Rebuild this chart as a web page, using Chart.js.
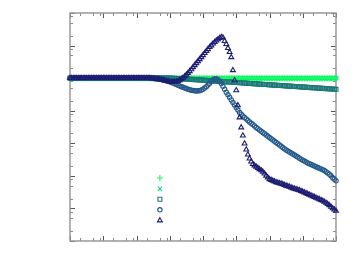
<!DOCTYPE html>
<html>
<head>
<meta charset="utf-8">
<script src="https://cdn.jsdelivr.net/npm/chart.js@4/dist/chart.umd.min.js"></script>
<style>
  html, body { margin: 0; padding: 0; background: #fff; }
  #wrap { width: 354px; height: 275px; }
</style>
</head>
<body>
<div id="wrap"><canvas id="chart"></canvas></div>
<script>
// x grid, 10 points per decade
const xGrid = [
  1e-4, 1.26e-4, 1.58e-4, 2e-4, 2.51e-4, 3.16e-4, 3.98e-4, 5.01e-4, 6.31e-4, 7.94e-4,
  1e-3, 1.26e-3, 1.58e-3, 2e-3, 2.51e-3, 3.16e-3, 3.98e-3, 5.01e-3, 6.31e-3, 7.94e-3,
  1e-2, 1.26e-2, 1.58e-2, 2e-2, 2.51e-2, 3.16e-2, 3.98e-2, 5.01e-2, 6.31e-2, 7.94e-2,
  0.1, 0.126, 0.158, 0.2, 0.251, 0.316, 0.398, 0.501, 0.631, 0.794,
  1, 1.26, 1.58, 2, 2.51, 3.16, 3.98, 5.01, 6.31, 7.94,
  10, 12.6, 15.8, 20, 25.1, 31.6, 39.8, 50.1, 63.1, 79.4,
  100, 126, 158, 200, 251, 316, 398, 501, 631, 794,
  1000, 1260, 1580, 2000, 2510, 3160, 3980, 5010, 6310, 7940,
  10000,
];

// in-between x values (half steps of the grid above)
const xMid = [
  1.12e-4, 1.41e-4, 1.78e-4, 2.24e-4, 2.82e-4, 3.55e-4, 4.47e-4, 5.62e-4, 7.08e-4, 8.91e-4,
  1.12e-3, 1.41e-3, 1.78e-3, 2.24e-3, 2.82e-3, 3.55e-3, 4.47e-3, 5.62e-3, 7.08e-3, 8.91e-3,
  1.12e-2, 1.41e-2, 1.78e-2, 2.24e-2, 2.82e-2, 3.55e-2, 4.47e-2, 5.62e-2, 7.08e-2, 8.91e-2,
  0.112, 0.141, 0.178, 0.224, 0.282, 0.355, 0.447, 0.562, 0.708, 0.891,
  1.12, 1.41, 1.78, 2.24, 2.82, 3.55, 4.47, 5.62, 7.08, 8.91,
  11.2, 14.1, 17.8, 22.4, 28.2, 35.5, 44.7, 56.2, 70.8, 89.1,
  112, 141, 178, 224, 282, 355, 447, 562, 708, 891,
  1120, 1410, 1780, 2240, 2820, 3550, 4470, 5620, 7080, 8910,
];

const plusY = [
  1, 1, 1, 1, 1, 1, 1, 1, 1, 1,
  1, 1, 1, 1, 1, 1, 1, 1, 1, 1,
  1, 1, 1, 1, 1, 1, 1, 1, 1, 1,
  1, 1, 1, 1, 1, 1, 1, 1, 1, 1,
  1, 1, 1, 1, 1, 1, 1, 1, 1, 1,
  1, 1, 1, 1, 1, 1, 1, 1, 1, 1,
  1, 1, 1, 1, 1, 1, 1, 1, 1, 1,
  1, 1, 1, 1, 1, 1, 1, 1, 1, 1,
  1,
];
const plusMidY = [
  1, 1, 1, 1, 1, 1, 1, 1, 1, 1,
  1, 1, 1, 1, 1, 1, 1, 1, 1, 1,
  1, 1, 1, 1, 1, 1, 1, 1, 1, 1,
  1, 1, 1, 1, 1, 1, 1, 1, 1, 1,
  1, 1, 1, 1, 1, 1, 1, 1, 1, 1,
  1, 1, 1, 1, 1, 1, 1, 1, 1, 1,
  1, 1, 1, 1, 1, 1, 1, 1, 1, 1,
  1, 1, 1, 1, 1, 1, 1, 1, 1, 1,
];

const crossY = [
  1, 1, 1, 1, 1, 1, 1, 1, 1, 1,
  1, 1, 1, 1, 1, 1, 1, 1, 1, 1,
  1, 1, 1, 1, 1, 1, 1, 1, 1, 1,
  1, 1, 1, 1, 1, 1, 1, 1, 1, 1,
  1, 1, 1, 1, 1, 1, 1, 1, 1, 1,
  1, 1, 1, 1, 1, 1, 1, 1, 1, 1,
  1, 1, 1, 1, 1, 1, 1, 1, 1, 1,
  1, 1, 1, 1, 1, 1, 1, 1, 1, 1,
  1,
];
const crossMidY = [
  1, 1, 1, 1, 1, 1, 1, 1, 1, 1,
  1, 1, 1, 1, 1, 1, 1, 1, 1, 1,
  1, 1, 1, 1, 1, 1, 1, 1, 1, 1,
  1, 1, 1, 1, 1, 1, 1, 1, 1, 1,
  1, 1, 1, 1, 1, 1, 1, 1, 1, 1,
  1, 1, 1, 1, 1, 1, 1, 1, 1, 1,
  1, 1, 1, 1, 1, 1, 1, 1, 1, 1,
  1, 1, 1, 1, 1, 1, 1, 1, 1, 1,
];

const squareY = [
  1, 1, 1, 1, 1, 1, 1, 1, 1, 1,
  1, 1, 1, 1, 1, 1, 1, 1, 1, 1,
  1, 1, 1, 1, 1, 1, 1, 1, 1, 1,
  1, 0.99, 0.98, 0.969, 0.952, 0.935, 0.922, 0.909, 0.893, 0.881,
  0.865, 0.853, 0.838, 0.823, 0.811, 0.8, 0.786, 0.772, 0.761, 0.748,
  0.735, 0.724, 0.714, 0.699, 0.689, 0.68, 0.668, 0.656, 0.647, 0.637,
  0.626, 0.615, 0.606, 0.598, 0.587, 0.577, 0.569, 0.561, 0.551, 0.542,
  0.534, 0.526, 0.517, 0.508, 0.501, 0.494, 0.485, 0.477, 0.47, 0.462,
  0.453,
];
const squareMidY = [
  1, 1, 1, 1, 1, 1, 1, 1, 1, 1,
  1, 1, 1, 1, 1, 1, 1, 1, 1, 1,
  1, 1, 1, 1, 1, 1, 1, 1, 1, 1,
  0.995, 0.985, 0.975, 0.96, 0.943, 0.928, 0.915, 0.901, 0.887, 0.873,
  0.859, 0.845, 0.83, 0.817, 0.805, 0.793, 0.779, 0.766, 0.754, 0.741,
  0.73, 0.719, 0.706, 0.694, 0.684, 0.674, 0.662, 0.651, 0.642, 0.631,
  0.62, 0.61, 0.602, 0.592, 0.582, 0.573, 0.565, 0.556, 0.546, 0.538,
  0.53, 0.521, 0.512, 0.504, 0.497, 0.489, 0.481, 0.473, 0.466, 0.457,
];

const circleY = [
  1, 1, 1, 1, 1, 1, 1, 1, 1, 1,
  1, 1, 1, 1, 1, 1, 1, 1, 1, 1,
  1, 1, 1, 1, 1, 0.969, 0.949, 0.922, 0.884, 0.829,
  0.772, 0.704, 0.637, 0.577, 0.523, 0.477, 0.441, 0.416, 0.405, 0.413,
  0.453, 0.542, 0.694, 0.89, 0.956, 0.8, 0.561, 0.366, 0.257, 0.18,
  0.126, 0.0885, 0.0691, 0.0558, 0.0451, 0.0378, 0.0305, 0.0256, 0.0214, 0.0179,
  0.015, 0.0126, 0.0105, 0.00881, 0.00738, 0.00618, 0.00536, 0.00465, 0.00404, 0.0035,
  0.00304, 0.00264, 0.00237, 0.00213, 0.00191, 0.00172, 0.00155, 0.00134, 0.00112, 0.000877,
  0.000708,
];
const circleMidY = [
  1, 1, 1, 1, 1, 1, 1, 1, 1, 1,
  1, 1, 1, 1, 1, 1, 1, 1, 1, 1,
  1, 1, 1, 1, 0.99, 0.96, 0.936, 0.904, 0.857, 0.8,
  0.738, 0.67, 0.606, 0.549, 0.5, 0.458, 0.428, 0.41, 0.407, 0.43,
  0.495, 0.615, 0.8, 0.94, 0.9, 0.68, 0.455, 0.31, 0.215, 0.151,
  0.105, 0.078, 0.062, 0.05, 0.041, 0.034, 0.028, 0.0234, 0.0196, 0.0164,
  0.0137, 0.0115, 0.0096, 0.0081, 0.00675, 0.00575, 0.005, 0.00434, 0.00376, 0.00326,
  0.00284, 0.0025, 0.00225, 0.00202, 0.00181, 0.00163, 0.00145, 0.00123, 0.001, 0.00079,
];

const triangleY = [
  1, 1, 1, 1, 1, 1, 1, 1, 1, 1,
  1, 1, 1, 1, 1, 1, 1, 1, 1, 1,
  1, 1, 1, 1, 1, 0.976, 0.956, 0.922, 0.871, 0.823,
  0.783, 0.767, 0.783, 0.859, 1.026, 1.269, 1.627, 2.162, 2.872, 3.815,
  5.07, 6.73, 8.95, 11.47, 14.19, 16.95, 17.57, 11.07, 6.27, 1.748,
  0.422, 0.0621, 0.0173, 0.0064, 0.00338, 0.00229, 0.00191, 0.0016, 0.00134, 0.00101,
  0.000787, 0.000708, 0.000637, 0.000593, 0.000553, 0.000497, 0.000463, 0.000416, 0.000388, 0.000361,
  0.000325, 0.000292, 0.000263, 0.000236, 0.000212, 0.000191, 0.000171, 0.000149, 0.000125, 0.000101,
  0.0000843,
];
const triangleMidY = [
  1, 1, 1, 1, 1, 1, 1, 1, 1, 1,
  1, 1, 1, 1, 1, 1, 1, 1, 1, 1,
  1, 1, 1, 1, 0.99, 0.966, 0.94, 0.897, 0.847, 0.803,
  0.773, 0.772, 0.815, 0.94, 1.14, 1.44, 1.87, 2.49, 3.3, 4.4,
  5.85, 7.75, 10.1, 12.8, 15.6, 18.2, 13.7, 8.33, 4.39, 0.859,
  0.1455, 0.0305, 0.0098, 0.00449, 0.00273, 0.00208, 0.00175, 0.00147, 0.00117, 0.00089,
  0.000745, 0.00067, 0.000614, 0.000573, 0.000524, 0.00048, 0.000438, 0.000402, 0.000374, 0.000342,
  0.000308, 0.000277, 0.00025, 0.000224, 0.000201, 0.000181, 0.00016, 0.000137, 0.000112, 0.0000925,
];

const xDecades = [-4, -3, -2, -1, 0, 1, 2, 3, 4];
const yDecades = [-5, -4, -3, -2, -1, 0, 1, 2];
const minorSteps = [2, 5, 8];

function pairs(xs, ys) {
  return ys.map((y, i) => ({ x: xs[i], y: y }));
}

function series(data, style, color, radius, order) {
  return {
    label: "",
    data: data,
    pointStyle: style,
    pointRadius: radius,
    pointBorderWidth: 1.1,
    borderColor: color,
    backgroundColor: "rgba(0,0,0,0)",
    pointBackgroundColor: "rgba(0,0,0,0)",
    pointBorderColor: color,
    showLine: false,
    clip: false,
    order: order,
  };
}

// frame and inside ticks on all four sides
const framePlugin = {
  id: "frame",
  beforeDatasetsDraw(chart) {
    const { ctx, chartArea: a, scales } = chart;
    ctx.save();
    ctx.lineWidth = 1;
    const drawTick = (pos, len, horizontal) => {
      if (horizontal) {
        ctx.moveTo(pos, a.bottom);
        ctx.lineTo(pos, a.bottom - len);
        ctx.moveTo(pos, a.top);
        ctx.lineTo(pos, a.top + len);
      } else {
        ctx.moveTo(a.left, pos);
        ctx.lineTo(a.left + len, pos);
        ctx.moveTo(a.right, pos);
        ctx.lineTo(a.right - len, pos);
      }
    };
    ctx.strokeStyle = "#8a8a8a";
    ctx.beginPath();
    xDecades.forEach((d) => {
      minorSteps.forEach((m) => {
        if (d < 4) drawTick(Math.round(scales.x.getPixelForValue(m * Math.pow(10, d))) + 0.5, 3, true);
      });
    });
    yDecades.forEach((d) => {
      minorSteps.forEach((m) => {
        if (d < 2) drawTick(Math.round(scales.y.getPixelForValue(m * Math.pow(10, d))) + 0.5, 3, false);
      });
    });
    ctx.stroke();
    ctx.strokeStyle = "#555";
    ctx.beginPath();
    xDecades.forEach((d) => drawTick(Math.round(scales.x.getPixelForValue(Math.pow(10, d))) + 0.5, 5, true));
    yDecades.forEach((d) => drawTick(Math.round(scales.y.getPixelForValue(Math.pow(10, d))) + 0.5, 5, false));
    ctx.stroke();
    ctx.strokeStyle = "#999";
    ctx.lineWidth = 1.5;
    ctx.strokeRect(a.left, a.top, a.right - a.left, a.bottom - a.top);
    ctx.restore();
  },
};

// marker-only key inside the plot
const keyPlugin = {
  id: "key",
  afterDraw(chart) {
    const { ctx, chartArea: a } = chart;
    const kx = a.left + (a.right - a.left) * 0.338;
    const ky = a.top + (a.bottom - a.top) * 0.724;
    chart.data.datasets.forEach((ds, i) => {
      ctx.save();
      ctx.strokeStyle = ds.pointBorderColor;
      ctx.fillStyle = "rgba(0,0,0,0)";
      ctx.lineWidth = 1.1;
      Chart.helpers.drawPoint(ctx, { pointStyle: ds.pointStyle, radius: ds.pointRadius, rotation: 0, borderWidth: 1.1 }, kx, ky + i * 10.6);
      ctx.restore();
    });
  },
};

new Chart(document.getElementById("chart"), {
  type: "scatter",
  data: {
    datasets: [
      series(pairs(xGrid, plusY).concat(pairs(xMid, plusMidY)), "cross", "#14ff5e", 3, 3),
      series(pairs(xGrid, crossY).concat(pairs(xMid, crossMidY)), "crossRot", "#00d882", 3, 4),
      series(pairs(xGrid, squareY).concat(pairs(xMid, squareMidY)), "rect", "#1b7878", 2.8, 2),
      series(pairs(xGrid, circleY).concat(pairs(xMid, circleMidY)), "circle", "#255a8a", 2.2, 1),
      series(pairs(xGrid, triangleY).concat(pairs(xMid, triangleMidY)), "triangle", "#1c1c72", 2.8, 0),
    ],
  },
  options: {
    responsive: true,
    maintainAspectRatio: false,
    animation: false,
    layout: { padding: { left: 70, right: 18, top: 13, bottom: 34 } },
    plugins: { legend: { display: false }, tooltip: { enabled: false } },
    scales: {
      x: { type: "logarithmic", min: 1e-4, max: 1e4, display: false },
      y: { type: "logarithmic", min: 1e-5, max: 1e2, display: false },
    },
  },
  plugins: [framePlugin, keyPlugin],
});
</script>
</body>
</html>
